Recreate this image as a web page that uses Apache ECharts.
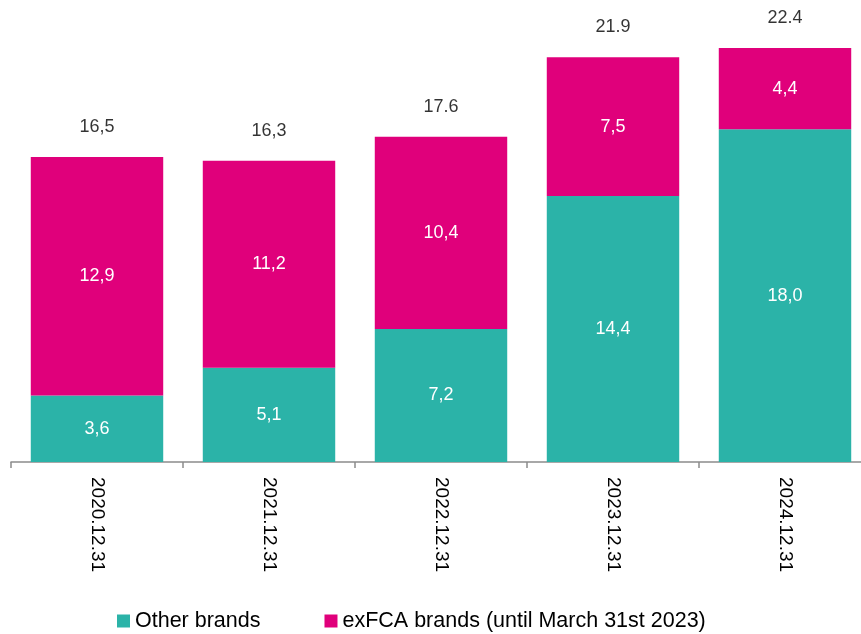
<!DOCTYPE html>
<html>
    <head>
        <meta charset="utf-8">
        <title>Brands</title>
        <script src="https://cdn.jsdelivr.net/npm/echarts@6/dist/echarts.min.js"></script>
        <style>
            html, body { margin: 0; padding: 0; background: #fff; }
            #chart1 { width: 861px; height: 634px; }
        </style>
    </head>
    <body>
        <div id="chart1"></div>
        <script type="text/javascript">
            var categories = ['2020.12.31', '2021.12.31', '2022.12.31', '2023.12.31', '2024.12.31'];
            var otherBrands = [3.6, 5.1, 7.2, 14.4, 18.0];
            var exFcaBrands = [12.9, 11.2, 10.4, 7.5, 4.4];
            var totals = [16.5, 16.3, 17.6, 21.9, 22.4];
            var totalLabels = ['16,5', '16,3', '17.6', '21.9', '22.4'];

            function comma(v) {
                return v.toFixed(1).replace('.', ',');
            }

            var myChart1 = echarts.init(document.getElementById('chart1'));
            var font = 'Liberation Sans, Arial, sans-serif';

            myChart1.setOption({
                animation: false,
                textStyle: { fontFamily: font },
                grid: { left: 11, width: 860, top: 0, height: 462, containLabel: false, outerBoundsMode: 'none' },
                legend: {
                    top: 605,
                    left: 112,
                    itemWidth: 13,
                    itemHeight: 13,
                    itemGap: 64,
                    icon: 'rect',
                    textStyle: { fontSize: 21.5, color: '#000', fontFamily: font },
                    data: ['Other brands', 'exFCA brands (until March 31st 2023)']
                },
                xAxis: {
                    type: 'category',
                    data: categories,
                    axisLine: { lineStyle: { color: '#8c8c8c', width: 1.5 } },
                    axisTick: { show: true, length: 6, lineStyle: { color: '#8c8c8c', width: 1.5 } },
                    axisLabel: { rotate: -90, fontSize: 19, color: '#000', margin: 15, interval: 0 }
                },
                yAxis: {
                    type: 'value',
                    min: 0,
                    max: 25,
                    show: false,
                    splitLine: { show: false }
                },
                series: [
                    {
                        name: 'Other brands',
                        type: 'bar',
                        stack: 'total',
                        barCategoryGap: '23%',
                        itemStyle: { color: '#2bb3a8' },
                        label: {
                            show: true,
                            position: 'inside',
                            color: '#fff',
                            fontSize: 18,
                            formatter: function (p) { return comma(p.value); }
                        },
                        data: otherBrands
                    },
                    {
                        name: 'exFCA brands (until March 31st 2023)',
                        type: 'bar',
                        stack: 'total',
                        itemStyle: { color: '#e0007b' },
                        label: {
                            show: true,
                            position: 'inside',
                            color: '#fff',
                            fontSize: 18,
                            formatter: function (p) { return comma(p.value); }
                        },
                        data: exFcaBrands
                    },
                    {
                        name: 'total',
                        type: 'scatter',
                        symbolSize: 0,
                        silent: true,
                        label: {
                            show: true,
                            position: 'top',
                            distance: 21,
                            color: '#000',
                            fontSize: 18,
                            formatter: function (p) { return totalLabels[p.dataIndex]; }
                        },
                        data: totals
                    }
                ]
            });
        </script>
    </body>
</html>
